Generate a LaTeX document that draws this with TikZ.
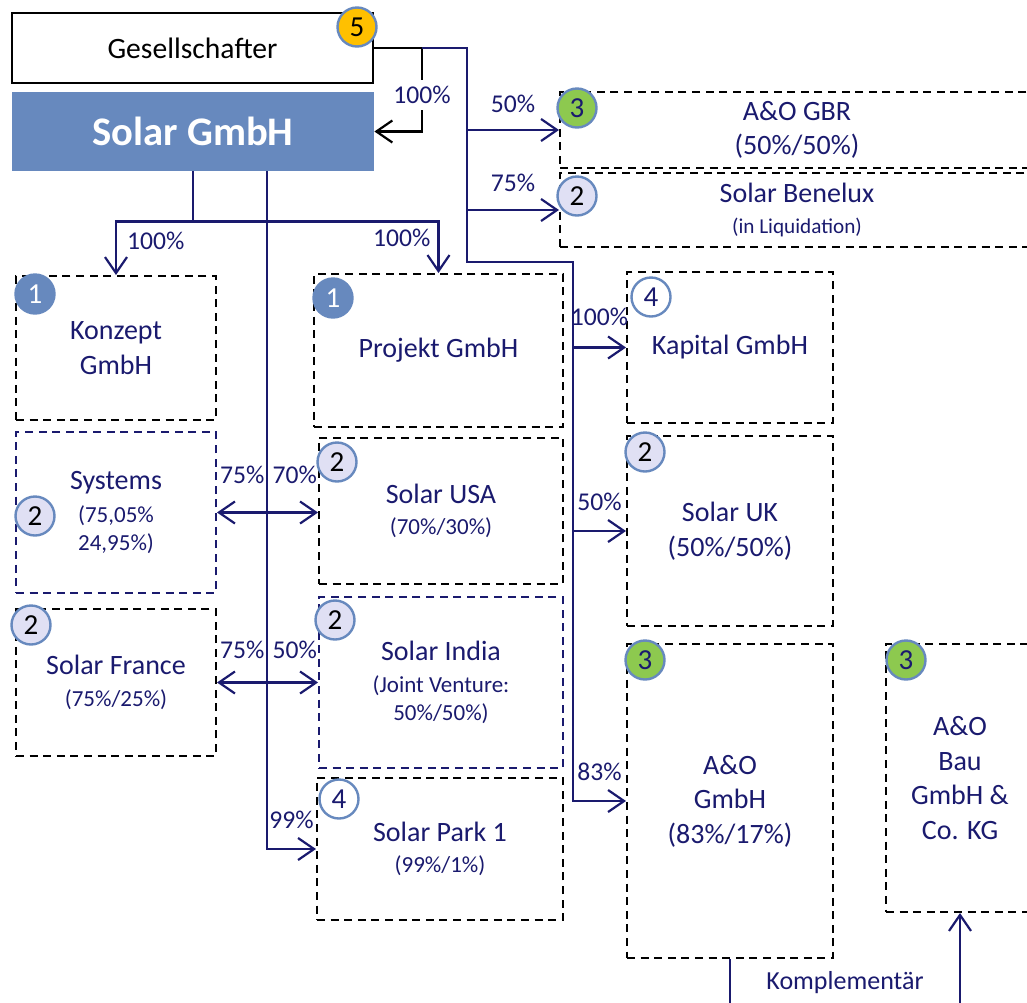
\documentclass[tikz,border=0pt]{standalone}
\usepackage{fontspec}
\setmainfont{Carlito}
\usetikzlibrary{arrows.meta}
\definecolor{navy}{HTML}{1A1A6E}
\definecolor{steel}{HTML}{6789BE}
\definecolor{lilac}{HTML}{E0E0F4}
\definecolor{leaf}{HTML}{8DC94F}
\definecolor{gold}{HTML}{FFC000}
\newcommand{\subtxt}[1]{{\fontsize{11.5}{14}\selectfont #1}}
\newcommand{\tinytxt}[1]{{\fontsize{10.6}{12}\selectfont #1}}
\begin{document}
\begin{tikzpicture}[x=0.5pt, y=-0.5pt, >={Straight Barb[length=8pt,width=11pt]},
  firm box/.style={draw=black, dash pattern=on 4pt off 2.8pt, line width=1pt, text=navy, align=center, font=\fontsize{14}{17.3}\selectfont, inner sep=0pt},
  joint box/.style={firm box, draw=navy},
  badge/.style={circle, draw=steel, line width=1.2pt, minimum size=19.5pt, inner sep=0pt, font=\fontsize{14.5}{14.5}\selectfont},
  lvl1/.style={badge, fill=steel, text=white},
  lvl2/.style={badge, fill=lilac, text=black},
  lvl3/.style={badge, fill=leaf, text=navy},
  lvl4/.style={badge, fill=white, text=navy},
  lvl5/.style={badge, fill=gold, text=black},
  own/.style={draw=navy, line width=1.1pt},
  pct/.style={text=navy, font=\fontsize{12.8}{13}\selectfont, inner sep=2pt}]
\useasboundingbox (0,0) rectangle (1027,1002);
\clip (0,0) rectangle (1027,1002);

\node [draw=black, line width=1.2pt, minimum width=180.5pt, minimum height=35pt, font=\fontsize{14.8}{17}\selectfont](ges) at (192.5,48) {Gesellschafter};
\node [fill=steel, text=white, minimum width=181pt, minimum height=39.5pt, font=\fontsize{20.3}{24}\selectfont\bfseries](solar) at (193,131.5) {Solar GmbH};

\node [firm box, minimum width=237pt, minimum height=38pt](gbr) at (797,130) {A\&O GBR\\(50\%/50\%)};
\node [firm box, minimum width=237pt, minimum height=37pt](benelux) at (797,210) {Solar Benelux\\[-1.5pt]\tinytxt{(in Liquidation)}};
\node [firm box, minimum width=100pt, minimum height=72pt](konzept) at (116,348) {Konzept\\GmbH};
\node [joint box, minimum width=100pt, minimum height=80.5pt](systems) at (116,512.5) {Systems\\[-1pt]\subtxt{(75,05\%}\\[-3pt]\subtxt{24,95\%)}};
\node [firm box, minimum width=100pt, minimum height=73.5pt](france) at (116,682.5) {Solar France\\[-1.5pt]\subtxt{(75\%/25\%)}};
\node [firm box, minimum width=124.5pt, minimum height=76.5pt](projekt) at (438.5,350.5) {Projekt GmbH};
\node [firm box, minimum width=122pt, minimum height=73pt](usa) at (441,511) {Solar USA\\[-1.5pt]\subtxt{(70\%/30\%)}};
\node [joint box, minimum width=122pt, minimum height=85.5pt](india) at (441,682.5) {Solar India\\[-1.5pt]\subtxt{(Joint Venture:}\\[-3pt]\subtxt{50\%/50\%)}};
\node [firm box, minimum width=123pt, minimum height=71pt](park) at (440,849) {Solar Park 1\\[-1.5pt]\subtxt{(99\%/1\%)}};
\node [firm box, minimum width=103pt, minimum height=75.5pt](kapital) at (730,347.5) {Kapital GmbH};
\node [firm box, minimum width=103pt, minimum height=95pt](uk) at (730,531) {Solar UK\\(50\%/50\%)};
\node [firm box, minimum width=103pt, minimum height=157pt](aogmbh) at (730,801) {A\&O\\GmbH\\(83\%/17\%)};
\node [firm box, minimum width=74pt, minimum height=134pt](aobau) at (960,778) {A\&O\\Bau\\GmbH \&\\Co. KG};

\node [lvl5](b5) at (357,27) {5};
\node [lvl3](bgbr) at (577,108) {3};
\node [lvl2](bbenelux) at (577,196) {2};
\node [lvl1](bkonzept) at (35,294) {1};
\node [lvl2](bsystems) at (35,516) {2};
\node [lvl2](bfrance) at (31,625) {2};
\node [lvl1](bprojekt) at (333,298) {1};
\node [lvl2](busa) at (337,462) {2};
\node [lvl2](bindia) at (335,620) {2};
\node [lvl4](bpark) at (339,799) {4};
\node [lvl4](bkapital) at (651,297) {4};
\node [lvl2](buk) at (645,452) {2};
\node [lvl3](baogmbh) at (645,660) {3};
\node [lvl3](baobau) at (906,660) {3};

\coordinate (j1) at (422,48);
\coordinate (t1) at (467,48);
\coordinate (t2) at (573,262);
\coordinate (spine) at (267,849);

\draw [black, line width=1.1pt, ->] (ges.east) -- (j1) |- node[pos=0.283, pct, fill=white, inner sep=3pt]{100\%} (solar.east);
\draw [own, ->] (j1) -- (t1) |- (t2) |- node[pos=0.75, pct, above=7.5pt]{83\%} (aogmbh.west);
\draw [own, ->] (t1 |- gbr.west) -- node[pct, above=6pt]{50\%} (gbr.west);
\draw [own, ->] (t1 |- benelux.west) -- node[pct, above=6.5pt]{75\%} (benelux.west);
\draw [own, ->] (t2 |- kapital.west) -- node[pct, above=8.5pt]{100\%} (kapital.west);
\draw [own, ->] (t2 |- uk.west) -- node[pct, above=7.5pt]{50\%} (uk.west);

\draw [own, ->] (solar.south) -- ++(0,50) -| node[pos=0.68, pct, right=3pt]{100\%} (konzept.north);
\draw [own, ->] (solar.south) -- ++(0,50) -| node[pos=0.66, pct, left=1.5pt]{100\%} (projekt.north);
\draw [own, ->] (solar.south -| spine) |- node[pos=0.75, pct, above=7.7pt]{99\%} (park.west);

\draw [own, <->] (systems.east) -- node[pos=0.25, pct, above=11.7pt]{75\%} node[pos=0.77, pct, above=11.7pt]{70\%} (systems.east -| usa.west);
\draw [own, <->] (france.east) -- node[pos=0.25, pct, above=9.2pt]{75\%} node[pos=0.77, pct, above=9.2pt]{50\%} (france.east -| india.west);

\draw [own, ->] (aogmbh.south) -- ++(0,60) -| node[pos=0.25, pct, font=\fontsize{13}{14}\selectfont, above=10pt]{Komplementär} (aobau.south);
\end{tikzpicture}
\end{document}
